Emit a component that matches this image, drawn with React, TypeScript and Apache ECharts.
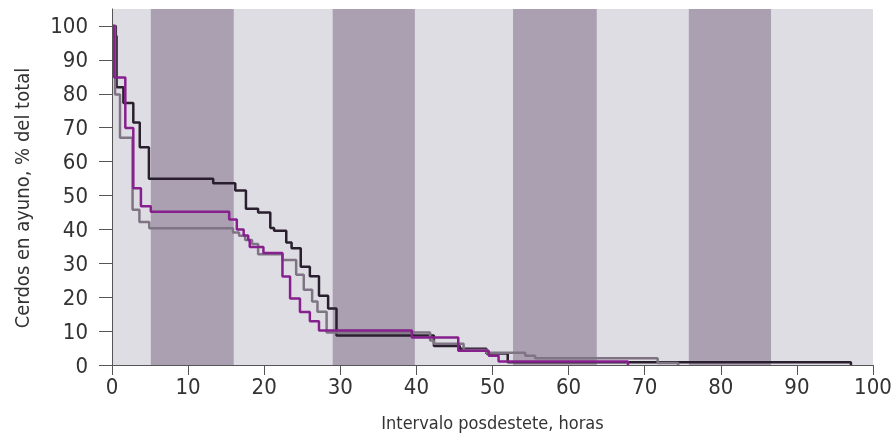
import React, { useEffect, useRef } from "react";
import * as echarts from "echarts";

// Survival-like step curves: change points (hours) and % of pigs still fasting
const hoursBlack = [0, 0.5, 0.6, 1.5, 2.8, 3.65, 4.85, 13.3, 16.2, 17.6, 19.2, 20.8, 21.3, 22.9, 23.6, 24.8, 26.0, 27.2, 28.4, 29.5, 42.3, 45.7, 49.2, 52.0, 97.1];
const pctBlack = [100, 97, 81.9, 77.3, 71.5, 64.2, 54.9, 53.6, 51.5, 46.1, 45.0, 40.4, 39.6, 36.1, 34.4, 29.0, 26.2, 20.4, 16.7, 8.7, 5.6, 4.8, 3.4, 0.8, 0];

const hoursGray = [0, 0.4, 1.05, 2.7, 3.6, 4.9, 15.9, 16.7, 17.5, 18.4, 19.2, 22.4, 24.2, 25.2, 26.3, 27.0, 28.2, 41.8, 42.3, 46.2, 49.2, 54.3, 55.6, 71.7, 74.4];
const pctGray = [100, 79.8, 67.0, 45.8, 42.2, 40.3, 39.1, 38.1, 36.9, 35.7, 32.7, 31.0, 26.6, 22.2, 18.7, 15.7, 9.6, 7.2, 6.3, 4.4, 3.6, 2.7, 2.0, 0.6, 0];

const hoursPurple = [0, 0.3, 1.75, 2.8, 3.8, 5.1, 15.4, 16.4, 17.3, 17.9, 18.1, 19.9, 22.4, 23.4, 24.7, 26.0, 27.2, 39.4, 45.5, 49.5, 50.8, 67.8];
const pctPurple = [100, 84.8, 69.9, 52.1, 46.8, 45.2, 42.9, 40.0, 38.2, 36.9, 34.8, 33.0, 26.1, 19.6, 15.6, 12.9, 10.2, 8.1, 4.2, 2.7, 1.0, 0];

// Night periods (dark bands), hours
const bandStarts = [5.1, 29.0, 52.7, 75.8];
const bandEnds = [16.0, 39.8, 63.7, 86.6];

const yTickValues = [0, 10, 20, 30, 40, 50, 60, 70, 80, 90, 100];

const xName = "Intervalo posdestete, horas";
const yName = "Cerdos en ayuno, % del total";

const FONT = "'Liberation Sans Narrow', 'DejaVu Sans Condensed', 'Roboto Condensed', 'Liberation Sans', sans-serif";

const pairs = (xs: number[], ys: number[]) => xs.map((x, i) => [x, ys[i]]);

export default function App() {
  const ref = useRef<HTMLDivElement>(null);

  useEffect(() => {
    document.body.style.margin = "0";
    if (!ref.current) return;
    const chart = echarts.init(ref.current, null, { renderer: "svg" });
    const lineSeries = (name: string, xs: number[], ys: number[], color: string, z: number) => ({
      name,
      type: "line",
      step: "end",
      data: pairs(xs, ys),
      showSymbol: false,
      symbol: "none",
      lineStyle: { color, width: 2.5 },
      z,
      silent: true,
    });
    chart.setOption({
      animation: false,
      grid: {
        left: 112,
        right: 20,
        top: 9,
        bottom: 72,
        show: true,
        backgroundColor: "#dfdde4",
        borderWidth: 0,
        containLabel: false,
        outerBoundsMode: "none",
      },
      xAxis: {
        type: "value",
        min: 0,
        max: 100,
        interval: 10,
        z: 10,
        name: xName,
        nameLocation: "middle",
        nameGap: 48,
        nameTextStyle: { fontFamily: FONT, fontSize: 18, color: "#333" },
        axisLine: { show: true, lineStyle: { color: "#555", width: 1 } },
        axisTick: { show: true, length: 10, lineStyle: { color: "#555", width: 1 } },
        axisLabel: { fontFamily: FONT, fontSize: 22, color: "#333", margin: 10, showMinLabel: true, showMaxLabel: true },
        splitLine: { show: false },
      },
      yAxis: {
        type: "value",
        min: 0,
        max: 105,
        z: 10,
        name: yName,
        nameLocation: "middle",
        nameGap: 80,
        nameTextStyle: { fontFamily: FONT, fontSize: 20, color: "#333", padding: [0, 22, 0, 0] },
        axisLine: { show: true, lineStyle: { color: "#555", width: 1 } },
        axisTick: { show: true, length: 13, customValues: yTickValues, lineStyle: { color: "#555", width: 1 } },
        axisLabel: { fontFamily: FONT, fontSize: 22, color: "#333", margin: 24, customValues: yTickValues },
        splitLine: { show: false },
      },
      series: [
        {
          name: "bands",
          type: "line",
          data: [],
          z: 1,
          silent: true,
          markArea: {
            silent: true,
            itemStyle: { color: "#ab9fb2" },
            data: bandStarts.map((s, i) => [{ xAxis: s }, { xAxis: bandEnds[i] }]),
          },
        },
        lineSeries("black", hoursBlack, pctBlack, "#2a1f2e", 3),
        lineSeries("gray", hoursGray, pctGray, "#7e7484", 4),
        lineSeries("purple", hoursPurple, pctPurple, "#86208c", 5),
      ],
    });
    return () => chart.dispose();
  }, []);

  return <div ref={ref} style={{ position: "fixed", left: 0, top: 0, width: 893, height: 437 }} />;
}
